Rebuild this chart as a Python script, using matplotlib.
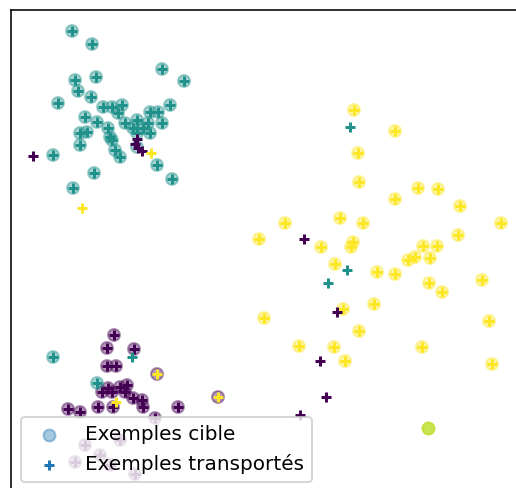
import numpy as np
import matplotlib.pyplot as plt

# transported samples (+), grouped by cluster: x, y, class label
up_teal_x = [1.22, 1.62, 3.02, 3.46, 1.70, 1.28, 1.34, 1.60, 0.94, 1.84, 2.02, 2.22, 2.14,
             3.18, 2.78, 2.94, 1.48, 1.72, 2.28, 2.52, 2.74, 3.02, 1.94, 1.38, 1.52, 2.44,
             2.64, 2.52, 2.78, 1.98, 2.02, 1.38, 2.08, 2.18, 2.92, 0.84, 3.22, 1.66, 1.24]
up_teal_y = [9.22, 8.96, 8.46, 8.22, 8.30, 8.24, 8.02, 7.90, 7.78, 7.70, 7.70, 7.74, 7.58,
             7.74, 7.60, 7.60, 7.50, 7.40, 7.38, 7.44, 7.38, 7.38, 7.28, 7.18, 7.20, 7.28,
             7.28, 7.18, 7.18, 7.10, 7.04, 6.94, 6.84, 6.70, 6.54, 6.74, 6.26, 6.38, 6.08]

right_yel_x = [6.86, 7.68, 6.94, 6.96, 8.14, 8.54, 7.68, 8.98, 5.48, 6.58, 7.04, 9.80, 4.96,
               6.20, 6.84, 6.80, 8.94, 8.24, 8.52, 7.94, 8.08, 8.38, 6.48, 7.32, 7.68, 8.36,
               8.62, 9.42, 7.26, 6.64, 5.06, 9.56, 6.96, 5.76, 6.46, 8.22, 6.68, 9.62]
right_yel_y = [7.64, 7.22, 6.78, 6.20, 6.08, 6.06, 5.86, 5.72, 5.38, 5.48, 5.38, 5.38, 5.06,
               4.90, 5.00, 4.90, 5.14, 4.92, 4.92, 4.64, 4.70, 4.68, 4.56, 4.40, 4.36, 4.18,
               4.00, 4.24, 3.76, 3.66, 3.48, 3.42, 3.22, 2.92, 2.90, 2.90, 2.62, 2.56]

low_pur_x = [2.06, 1.92, 2.46, 1.92, 2.10, 1.94, 1.82, 2.02, 2.18, 2.32, 2.28, 2.44, 2.62,
             2.64, 1.74, 1.14, 1.38, 3.34, 2.04, 1.48, 1.78, 1.28, 2.18, 1.98, 2.48, 2.88]
low_pur_y = [3.14, 2.88, 2.86, 2.52, 2.52, 2.08, 2.00, 2.00, 2.10, 2.14, 2.00, 1.88, 1.84,
             1.70, 1.70, 1.66, 1.60, 1.70, 1.70, 0.94, 0.74, 0.60, 1.04, 0.54, 0.36, 1.48]

# misplaced transported samples
odd_x = [0.44, 2.48, 2.54, 2.62, 2.52, 2.80, 1.42,
         6.78, 6.72, 6.34, 5.86, 6.52, 6.18, 6.30, 5.78,
         0.84, 2.42, 1.72, 2.92, 4.14, 2.10]
odd_y = [6.72, 6.96, 6.88, 6.82, 7.06, 6.78, 5.68,
         7.30, 4.44, 4.18, 5.06, 3.60, 2.62, 1.90, 1.54,
         2.70, 2.70, 2.18, 2.36, 1.90, 1.80]
odd_lab = [0, 0, 0, 0, 0, 2, 2,
           1, 1, 1, 0, 0, 0, 0, 0,
           1, 1, 1, 2, 2, 2]

# extra target samples (o) not shared with the clusters above
extra_t_x = [2.52, 0.84, 1.72, 2.92, 4.14]
extra_t_y = [6.90, 2.70, 2.18, 2.36, 1.90]
extra_t_lab = [1, 1, 1, 0, 0]

# lone target sample, lower right
lone_x = [8.34]
lone_y = [1.28]
lone_lab = [1.8]

xs = np.concatenate([up_teal_x, right_yel_x, low_pur_x, odd_x])
ys = np.concatenate([up_teal_y, right_yel_y, low_pur_y, odd_y])
lab_s = np.concatenate([np.full(len(up_teal_x), 1), np.full(len(right_yel_x), 2),
                        np.full(len(low_pur_x), 0), odd_lab])

xt = np.concatenate([up_teal_x, right_yel_x, low_pur_x, extra_t_x])
yt = np.concatenate([up_teal_y, right_yel_y, low_pur_y, extra_t_y])
lab_t = np.concatenate([np.full(len(up_teal_x), 1), np.full(len(right_yel_x), 2),
                        np.full(len(low_pur_x), 0), extra_t_lab])

fig = plt.figure(figsize=(516 / 144, 488 / 144), dpi=144)
ax = fig.add_axes([11 / 516, -4 / 488, 514 / 516, 482 / 488])

ax.scatter(xt, yt, c=lab_t, cmap='viridis', vmin=0, vmax=2, marker='o', alpha=0.4)
ax.scatter(lone_x, lone_y, c=lone_lab, cmap='viridis', vmin=0, vmax=2, marker='o', alpha=0.8)
ax.scatter(xs, ys, c=lab_s, cmap='viridis', vmin=0, vmax=2, marker='+', s=30)

# legend proxies
ax.scatter([], [], c='C0', marker='o', alpha=0.4, label='Exemples cible')
ax.scatter([], [], c='C0', marker='+', s=30, label='Exemples transportés')
ax.legend(loc='lower left')

ax.set_xlim(0, 10.28)
ax.set_ylim(0, 9.64)
ax.set_xticks([])
ax.set_yticks([])

fig.savefig('out.png', dpi=144)
